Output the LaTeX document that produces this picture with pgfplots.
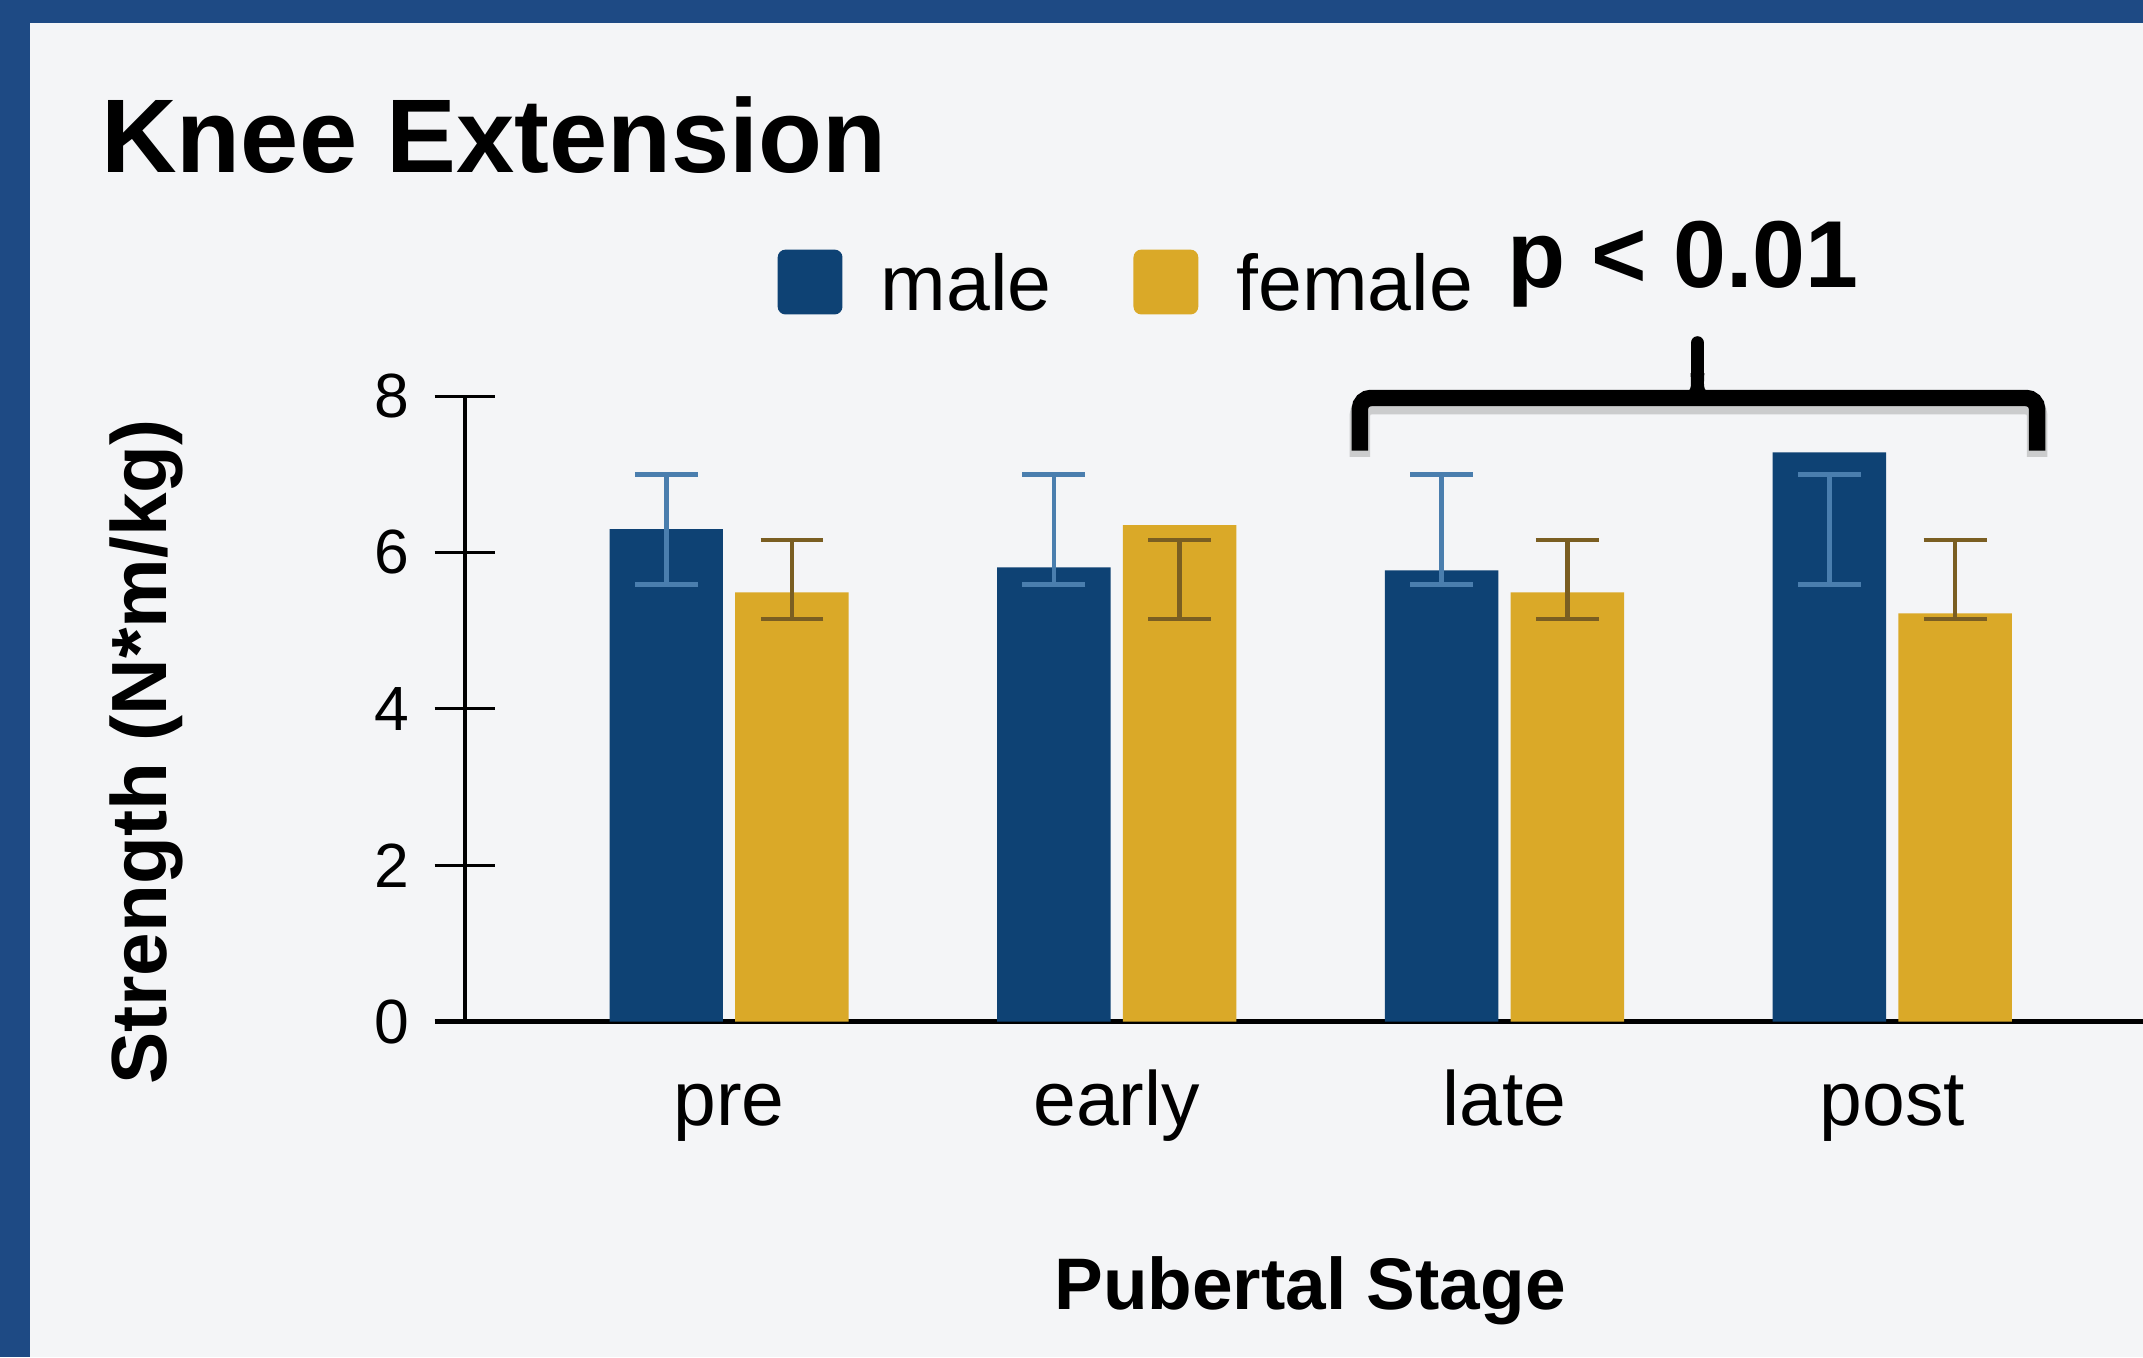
\documentclass[border=0pt]{standalone}
\usepackage{pgfplots}
\pgfplotsset{compat=1.18}
\usepackage{fontspec}
\setmainfont{Liberation Sans}
\definecolor{bgc}{HTML}{F4F5F7}
\definecolor{framec}{HTML}{1E4A84}
\definecolor{malec}{HTML}{0E4274}
\definecolor{femalec}{HTML}{DAA928}
\definecolor{maleerr}{HTML}{4A7EAE}
\definecolor{femaleerr}{HTML}{7A5E22}
\begin{document}
\begin{tikzpicture}[x=1mm,y=1mm]
\path[use as bounding box] (0,0) rectangle (156.8,99.3);
\fill[framec] (0,0) rectangle (156.8,99.3);
\fill[bgc] (2.2,0) rectangle (156.8,97.6);
\begin{axis}[
  at={(34.0mm,24.55mm)}, anchor=south west,
  scale only axis, width=122.8mm, height=45.77mm,
  xmin=-0.682, xmax=3.647, ymin=0, ymax=8,
  axis x line=bottom, axis y line=left,
  x axis line style={-, line width=0.35mm},
  y axis line style={-, line width=0.3mm},
  ytick={0,2,4,6,8},
  xtick={0,1,2,3},
  xticklabels={pre,early,late,post},
  tick align=center,
  major tick length=4.4mm,
  y tick style={black, line width=0.22mm},
  x tick style={draw=none},
  /pgf/number format/assume math mode=true,
  yticklabel style={font=\fontsize{13}{13}\selectfont, anchor=east, inner sep=0pt, xshift=-1.8mm},
  xticklabel style={font=\fontsize{16}{16}\selectfont, anchor=base, inner sep=0pt, yshift=-5.4mm},
  xlabel={Pubertal Stage},
  xlabel style={at={(axis description cs:0.5037,-0.4606)}, anchor=base, inner sep=0pt, font=\bfseries\fontsize{15.2}{15.2}\selectfont},
  ylabel={Strength (N*m/kg)},
  ylabel style={at={(axis description cs:-0.1775,0.431)}, anchor=base, inner sep=0pt, font=\bfseries\fontsize{16.3}{16.3}\selectfont},
  title={Knee Extension},
  title style={at={(axis description cs:-0.2171,1.3545)}, anchor=base west, inner sep=0pt, yshift=-2.0mm, font=\bfseries\fontsize{21.8}{21.8}\selectfont},
  legend columns=-1,
  legend style={at={(axis description cs:0.1865,1.2341)}, anchor=north west, draw=none, fill=none, inner sep=0pt, outer sep=0pt,
    font=\fontsize{16.4}{16.4}\selectfont, nodes={inner sep=0pt},
    /tikz/every odd column/.append style={column sep=2.8mm},
    /tikz/every even column/.append style={column sep=6.0mm}},
]
\addplot[ybar, bar width=8.3mm, bar shift=-4.6mm, fill=malec, draw=none, forget plot]
  coordinates {(0,6.30) (1,5.81) (2,5.77) (3,7.28)};
\addplot[ybar, bar width=8.3mm, bar shift=4.6mm, fill=femalec, draw=none, forget plot]
  coordinates {(0,5.49) (1,6.35) (2,5.49) (3,5.22)};
\addplot[draw=none, mark=none, forget plot,
  error bars/.cd, y dir=both, y explicit, error mark=|,
  error bar style={maleerr, line width=0.35mm},
  error mark options={maleerr, line width=0.35mm, mark size=2.3mm}]
  coordinates {(-0.1622,6.295) +- (0,0.705) (0.8378,6.295) +- (0,0.705) (1.8378,6.295) +- (0,0.705) (2.8378,6.295) +- (0,0.705)};
\addplot[draw=none, mark=none, forget plot,
  error bars/.cd, y dir=both, y explicit, error mark=|,
  error bar style={femaleerr, line width=0.35mm},
  error mark options={femaleerr, line width=0.35mm, mark size=2.3mm}]
  coordinates {(0.1622,5.655) +- (0,0.505) (1.1622,5.655) +- (0,0.505) (2.1622,5.655) +- (0,0.505) (3.1622,5.655) +- (0,0.505)};
\addlegendimage{legend image code/.code={\fill[malec, rounded corners=0.5mm] (0mm,-2.05mm) rectangle (4.6mm,2.55mm);}}
\addlegendentry{male}
\addlegendimage{legend image code/.code={\fill[femalec, rounded corners=0.5mm] (0mm,-2.05mm) rectangle (4.6mm,2.55mm);}}
\addlegendentry{female}
\end{axis}
\draw[line width=0.35mm] (31.8,24.55) -- (34.0,24.55);
\node[anchor=base west, inner sep=0pt, font=\bfseries\fontsize{19.8}{19.8}\selectfont] at (110.2,78.3) {p < 0.01};
% brace shadow
\begin{scope}[yshift=-0.45mm, opacity=0.35]
\draw[gray, line width=1.5mm, rounded corners=0.8mm] (99.5,66.32) -- (99.5,70.18) -- (149.05,70.18) -- (149.05,66.32);
\end{scope}
\draw[black, line width=1.2mm, rounded corners=0.8mm] (99.5,66.32) -- (99.5,70.18) -- (149.05,70.18) -- (149.05,66.32);
\draw[black, line width=1.0mm, line cap=round] (124.2,70.18) -- (124.2,74.2);
\fill[black] (123.2,70.6) .. controls (123.9,70.6) and (123.7,71.3) .. (123.7,72.0) -- (124.7,72.0) .. controls (124.7,71.3) and (124.5,70.6) .. (125.2,70.6) -- cycle;
\end{tikzpicture}
\end{document}
